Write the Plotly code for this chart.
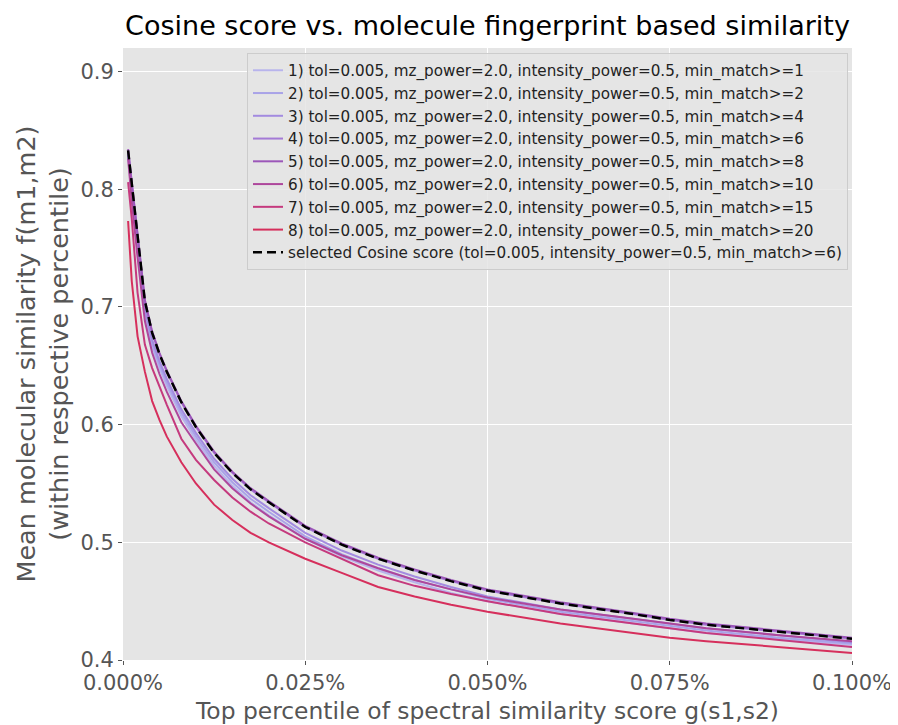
import plotly.graph_objects as go

# x positions: top percentile (as fraction), y: mean molecular similarity
x_vals = [0.000007, 0.000012, 0.00002, 0.00003, 0.00004, 0.00005, 0.00006, 0.00008,
          0.00010, 0.000125, 0.00015, 0.000175, 0.00020, 0.00025, 0.00030, 0.00035,
          0.00040, 0.00045, 0.00050, 0.00060, 0.00070, 0.00075, 0.00080, 0.00090, 0.00100]

s1 = [0.828, 0.795, 0.750, 0.693, 0.666, 0.648, 0.633, 0.607, 0.587, 0.565, 0.548, 0.534, 0.523,
      0.503, 0.488, 0.476, 0.466, 0.457, 0.450, 0.439, 0.431, 0.427, 0.423, 0.418, 0.413]
s2 = [0.829, 0.797, 0.752, 0.696, 0.669, 0.651, 0.636, 0.610, 0.590, 0.568, 0.551, 0.537, 0.526,
      0.505, 0.490, 0.478, 0.468, 0.460, 0.452, 0.441, 0.433, 0.429, 0.425, 0.419, 0.414]
s3 = [0.831, 0.800, 0.756, 0.699, 0.672, 0.654, 0.639, 0.613, 0.593, 0.571, 0.554, 0.540, 0.529,
      0.508, 0.493, 0.481, 0.471, 0.462, 0.454, 0.443, 0.435, 0.431, 0.427, 0.421, 0.415]
s4 = [0.833, 0.805, 0.762, 0.705, 0.678, 0.660, 0.645, 0.619, 0.598, 0.576, 0.559, 0.545, 0.534,
      0.513, 0.498, 0.486, 0.476, 0.467, 0.459, 0.448, 0.439, 0.434, 0.430, 0.424, 0.418]
s5 = [0.834, 0.806, 0.763, 0.706, 0.679, 0.661, 0.646, 0.620, 0.599, 0.577, 0.560, 0.546, 0.535,
      0.514, 0.499, 0.487, 0.477, 0.468, 0.460, 0.449, 0.440, 0.435, 0.431, 0.425, 0.419]
s6 = [0.826, 0.790, 0.742, 0.688, 0.661, 0.643, 0.628, 0.602, 0.584, 0.562, 0.546, 0.533, 0.522,
      0.503, 0.489, 0.478, 0.468, 0.460, 0.453, 0.443, 0.435, 0.431, 0.427, 0.421, 0.416]
s7 = [0.806, 0.775, 0.712, 0.668, 0.648, 0.632, 0.617, 0.588, 0.570, 0.553, 0.538, 0.526, 0.516,
      0.500, 0.486, 0.472, 0.463, 0.456, 0.450, 0.439, 0.431, 0.427, 0.423, 0.417, 0.411]
s8 = [0.773, 0.722, 0.675, 0.645, 0.620, 0.604, 0.590, 0.568, 0.550, 0.532, 0.519, 0.508, 0.500,
      0.486, 0.474, 0.462, 0.454, 0.447, 0.441, 0.431, 0.423, 0.419, 0.416, 0.411, 0.406]
selected = s4

min_matches = [1, 2, 4, 6, 8, 10, 15, 20]
series = [s1, s2, s3, s4, s5, s6, s7, s8]
colors = ["#B8B4EC", "#A9A3E8", "#A38BE0", "#A47AD6", "#9C57B9", "#AE479C", "#C53A7E", "#D62F5C"]

fig = go.Figure()
for i, (mm, ys, col) in enumerate(zip(min_matches, series, colors)):
    fig.add_trace(go.Scatter(
        x=x_vals, y=ys, mode="lines",
        line=dict(color=col, width=2),
        name=f"{i+1}) tol=0.005, mz_power=2.0, intensity_power=0.5, min_match>={mm}",
        legendgroup=f"g{i}",
    ))
fig.add_trace(go.Scatter(
    x=x_vals, y=selected, mode="lines",
    line=dict(color="black", width=2.5, dash="9px,5px"),
    name="selected Cosine score (tol=0.005, intensity_power=0.5, min_match>=6)",
    legendgroup="gsel",
))

fig.update_layout(
    width=890, height=717,
    margin=dict(l=115, r=46, t=40, b=65),
    paper_bgcolor="white",
    plot_bgcolor="#E5E5E5",
    font=dict(family="DejaVu Sans", color="#555555"),
    title=dict(text="Cosine score vs. molecule fingerprint based similarity",
               x=0.5, xref="paper", xanchor="center", y=0.976, yref="container", yanchor="middle",
               font=dict(size=27, color="black", family="DejaVu Sans")),
    legend=dict(x=0.9945, xanchor="right", y=0.992, yanchor="top",
                bgcolor="rgba(229,229,229,0.85)", bordercolor="#CCCCCC", borderwidth=1,
                font=dict(size=15.2, color="#222222", family="DejaVu Sans"),
                tracegroupgap=0),
    showlegend=True,
)
fig.update_xaxes(range=[0, 0.001], tickvals=[0, 0.00025, 0.0005, 0.00075, 0.001],
                 tickformat=".3%", showgrid=True, gridcolor="white", gridwidth=1.3,
                 zeroline=False, ticks="outside", ticklen=4, tickcolor="#555555",
                 tickfont=dict(size=21, color="#555555"), automargin=False,
                 title=dict(text="Top percentile of spectral similarity score g(s1,s2)",
                            font=dict(size=23.4, color="#555555"), standoff=9))
fig.update_yaxes(range=[0.4, 0.92], tickvals=[0.4, 0.5, 0.6, 0.7, 0.8, 0.9],
                 tickformat=".1f", showgrid=True, gridcolor="white", gridwidth=1.3,
                 zeroline=False, ticks="outside", ticklen=4, tickcolor="#555555",
                 tickfont=dict(size=21, color="#555555"), automargin=False,
                 title=dict(text="Mean molecular similarity f(m1,m2)<br>(within respective percentile)",
                            font=dict(size=25.5, color="#555555"), standoff=4))

fig.write_html("out.html")
